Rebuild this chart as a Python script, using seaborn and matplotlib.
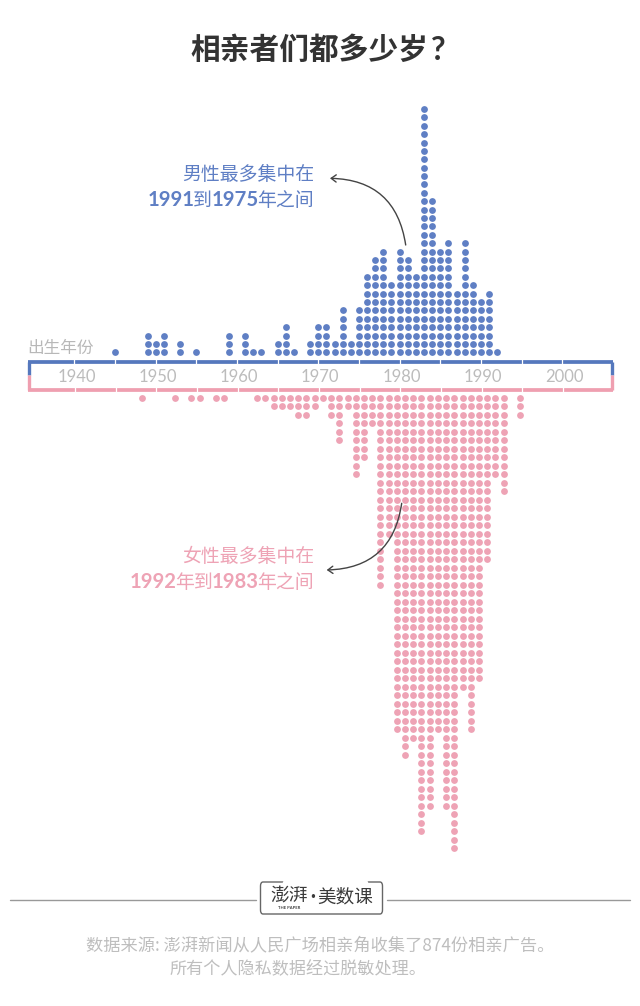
import matplotlib
matplotlib.use("Agg")
import matplotlib.pyplot as plt
import seaborn as sns
import pandas as pd
from matplotlib.patches import FancyArrowPatch, FancyBboxPatch

male_years = [1945,1949,1950,1951,1953,1955,1959,1961,1962,1963,1965,1966,1967,1969,1970,
              1971,1972,1973,1974,1975,1976,1977,1978,1979,1980,1981,1982,1983,1984,1985,
              1986,1987,1988,1989,1990,1991,1992]
male_counts = [1,3,2,3,2,1,3,3,1,1,2,4,1,2,4,
               4,2,6,2,6,10,12,13,9,13,12,10,30,19,13,
               14,8,14,9,7,8,1]
female_years = [1948,1952,1954,1955,1957,1958,1962,1963,1964,1965,1966,1967,1968,1969,1970,
                1971,1972,1973,1974,1975,1976,1977,1978,1979,1980,1981,1982,1983,1984,1985,
                1986,1987,1988,1989,1990,1991,1992,1994]
female_counts = [1,1,1,1,1,1,1,1,2,2,2,3,3,2,1,
                 3,6,2,10,8,4,23,17,40,43,41,52,49,40,49,
                 54,35,40,34,20,10,12,3]
tick_years = [1940,1950,1960,1970,1980,1990,2000]
minor_years = [1940,1945,1950,1955,1960,1965,1970,1975,1980,1985,1990,1995,2000]

BLUE = "#5f7fc4"; BLUE_LINE = "#5578bd"
PINK = "#eea3b5"; PINK_LINE = "#ef9fb0"
GRAY = "#b8b8b8"; DARK = "#333333"
CJK = "Noto Sans CJK SC"
W, H = 640, 1006

def expand(years, counts):
    rows = [(y, r) for y, c in zip(years, counts) for r in range(1, c + 1)]
    return pd.DataFrame(rows, columns=["year", "row"])

def P(x, y):
    return (x / W, 1 - y / H)

sns.set_theme(style="white")
plt.rcParams["font.family"] = [CJK, "DejaVu Sans"]
fig = plt.figure(figsize=(W / 100, H / 100), dpi=100, facecolor="white")

ax_m = fig.add_axes([0, 0, 1, 1])
ax_f = fig.add_axes([0, 0, 1, 1])
for ax in (ax_m, ax_f):
    ax.patch.set_alpha(0)
    ax.axis("off")

# male scale: 1950 at px 155.7, 8.13 px per year; row 1 at px 352.3, 8.39 px per row
xm0 = 1950 - 155.7 / 8.13
ax_m.set_xlim(xm0, xm0 + W / 8.13)
ax_m.set_ylim(1 - (H - 352.3) / 8.39, 1 + 352.3 / 8.39)
# female scale: first column at px 142, 8.22 px per year; row 1 at px 397.7, 8.5 px per row
xf0 = 1948 - 142 / 8.22
ax_f.set_xlim(xf0, xf0 + W / 8.22)
ax_f.set_ylim(1 + (H - 397.7) / 8.5, 1 - 397.7 / 8.5)

DOT = 24
sns.scatterplot(data=expand(male_years, male_counts), x="year", y="row", ax=ax_m,
                color=BLUE, s=DOT, linewidth=0, legend=False)
sns.scatterplot(data=expand(female_years, female_counts), x="year", y="row", ax=ax_f,
                color=PINK, s=DOT, linewidth=0, legend=False)
for ax in (ax_m, ax_f):
    ax.set_xlabel(""); ax.set_ylabel("")

def ym(py):
    return P(0, py)[1]

# axis band
top, bot, mid = 361.5, 390, 375
tr = fig.transFigure
fig.add_artist(plt.Line2D([27.5/W, 613/W], [ym(top)]*2, color=BLUE_LINE, lw=2.7, solid_capstyle="butt"))
fig.add_artist(plt.Line2D([27.5/W, 613/W], [ym(bot)]*2, color=PINK_LINE, lw=2.7, solid_capstyle="butt"))
for px in (29, 611.5):
    fig.add_artist(plt.Line2D([px/W]*2, [ym(top), ym(mid)], color=BLUE_LINE, lw=2.4, solid_capstyle="butt"))
    fig.add_artist(plt.Line2D([px/W]*2, [ym(mid), ym(bot)], color=PINK_LINE, lw=2.4, solid_capstyle="butt"))
for y in minor_years:
    px = (y - xm0) * 8.13
    fig.add_artist(plt.Line2D([px/W]*2, [ym(top-3), ym(top+3)], color="white", lw=0.9))
    fig.add_artist(plt.Line2D([(px+0.7)/W]*2, [ym(bot-3), ym(bot+3)], color="white", lw=0.9))
for y in tick_years:
    px = (y - xm0) * 8.13 + 2
    fig.text(px/W, ym(376.5), str(y), ha="center", va="center", fontsize=12, color="#bcbcbc",
             family=["Lato", CJK])

fig.text(27/W, ym(348), "出生年份", ha="left", va="center", fontsize=12, color=GRAY)
fig.text(190/W, ym(50), "相亲者们都多少岁", ha="left", va="center", fontsize=21.4,
         color=DARK, fontweight="bold")
fig.text(431/W, ym(50), "?", ha="left", va="center", fontsize=23,
         color=DARK, fontweight="bold", family=["Lato", CJK])

def pieces(right_px, y_px, parts, color, size):
    """Lay out mixed-font pieces so the run ends at right_px."""
    rend = fig.canvas.get_renderer()
    x = right_px
    for s, bold in reversed(parts):
        kw = dict(family=["Lato", CJK], fontweight="bold", fontsize=size + 1.0) if bold else dict(fontsize=size)
        t = fig.text(x/W, ym(y_px), s, ha="right", va="center_baseline", color=color, **kw)
        x -= t.get_window_extent(rend).width + (-1.5 if not bold else -0.5)

SIZE = 13.6
fig.text(314/W, ym(174), "男性最多集中在", ha="right", va="center", fontsize=SIZE, color=BLUE)
pieces(314, 198, [("1991", True), ("到", False), ("1975", True), ("年之间", False)], BLUE, SIZE)
fig.text(314/W, ym(556), "女性最多集中在", ha="right", va="center", fontsize=SIZE, color=PINK)
pieces(314, 580, [("1992", True), ("年到", False), ("1983", True), ("年之间", False)], PINK, SIZE)
for a, b, rad in [((405.7, 245), (330, 178.3), 0.42), ((401.7, 503.3), (326.7, 570), -0.42)]:
    fig.add_artist(FancyArrowPatch(P(*a), P(*b), transform=tr, connectionstyle=f"arc3,rad={rad}",
                                   arrowstyle="->,head_length=3.6,head_width=2.6", color="#444444", lw=1.0,
                                   shrinkA=0, shrinkB=0))

# footer
for a, b in [(10, 256), (387, 630)]:
    fig.add_artist(plt.Line2D([a/W, b/W], [ym(899.5)]*2, color="#999999", lw=1.0))
fig.add_artist(FancyBboxPatch(P(260.5, 914), 122/W, 32/H, transform=tr,
                              boxstyle="round,pad=0,rounding_size=0.004", fc="white", ec="#666666", lw=1.0))
fig.add_artist(plt.Line2D([284/W, 366/W], [ym(882)]*2, color="white", lw=2.5))
fig.text(289/W, ym(896), "澎湃", ha="center", va="center", fontsize=13.5, color="#3a3a3a")
fig.text(289/W, ym(908), "THE PAPER", ha="center", va="center", fontsize=3, color="#3a3a3a",
         family=["Lato", CJK], fontweight="bold")
fig.text(313/W, ym(897), "·", ha="center", va="center", fontsize=13, color="#3a3a3a",
         family=["Lato", CJK], fontweight="bold")
fig.text(345/W, ym(897), "美数课", ha="center", va="center", fontsize=13.4, color="#3a3a3a")
fig.text(320.5/W, ym(945), "数据来源: 澎湃新闻从人民广场相亲角收集了874份相亲广告。", ha="center", va="center",
         fontsize=12.4, color="#bebebe")
fig.text(298/W, ym(969), "所有个人隐私数据经过脱敏处理。", ha="center", va="center", fontsize=12.3, color="#bebebe")

fig.savefig("out.png", dpi=100, facecolor="white")
